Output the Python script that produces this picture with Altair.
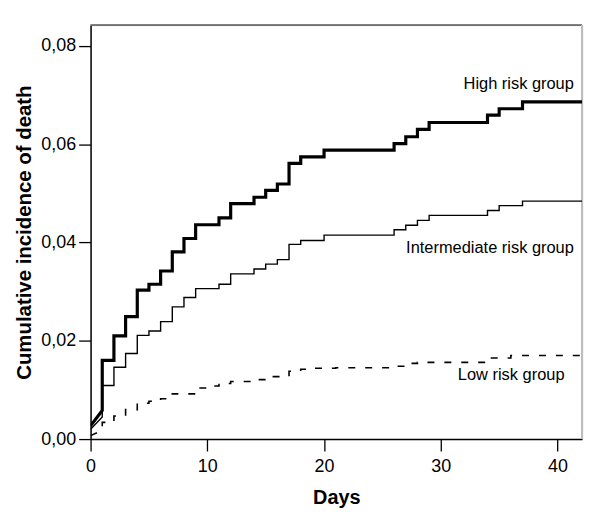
import altair as alt
import pandas as pd

# ---- data ----
groups = ["High risk group", "Intermediate risk group", "Low risk group"]

# value at day 0 and value just before the day-1 jump (initial sloped segment)
high_start = [0.0027, 0.0058]
high_days = [1, 2, 3, 4, 5, 6, 7, 8, 9, 11, 12, 14, 15, 16, 17, 18, 20, 26, 27, 28, 29, 34, 35, 37]
high_vals = [0.0160, 0.0210, 0.0249, 0.0303, 0.0315, 0.0342, 0.0381, 0.0408, 0.0436, 0.0450,
             0.0479, 0.0492, 0.0506, 0.0519, 0.0561, 0.0574, 0.0588, 0.0601, 0.0615, 0.0630,
             0.0644, 0.0659, 0.0672, 0.0686]

inter_start = [0.0020, 0.0045]
inter_days = [1, 2, 3, 4, 5, 6, 7, 8, 9, 11, 12, 14, 15, 16, 17, 18, 20, 26, 27, 28, 29, 34, 35, 37]
inter_vals = [0.0109, 0.0146, 0.0174, 0.0211, 0.0220, 0.0239, 0.0269, 0.0288, 0.0306, 0.0315,
              0.0336, 0.0346, 0.0356, 0.0365, 0.0396, 0.0404, 0.0415, 0.0426, 0.0435, 0.0445,
              0.0455, 0.0465, 0.0475, 0.0484]

low_start = [0.0007, 0.0018]
low_days = [1, 2, 3, 4, 5, 6, 7, 9, 10, 11, 12, 14, 15, 17, 18, 19, 21, 26, 27, 28, 34, 36]
low_vals = [0.0034, 0.0047, 0.0060, 0.0073, 0.0077, 0.0082, 0.0092, 0.0104, 0.0108, 0.0113,
            0.0117, 0.0121, 0.0127, 0.0138, 0.0142, 0.0144, 0.0145, 0.0148, 0.0154, 0.0156,
            0.0165, 0.0170]

follow_up_end = 42.1

label_x = [41.4, 41.4, 40.6]
label_y = [0.0722, 0.0388, 0.0131]

x_ticks = [0, 10, 20, 30, 40]
y_ticks = [0.0, 0.02, 0.04, 0.06, 0.08]

# ---- build step paths ----
def step_rows(name, start, days, vals):
    pts = [(0.0, start[0]), (1.0, start[1])]
    prev = start[1]
    for d, v in zip(days, vals):
        if pts[-1] != (d, prev):
            pts.append((d, prev))
        pts.append((d, v))
        prev = v
    pts.append((follow_up_end, prev))
    return [{"group": name, "day": x, "inc": y, "order": i} for i, (x, y) in enumerate(pts)]

rows = (step_rows(groups[0], high_start, high_days, high_vals)
        + step_rows(groups[1], inter_start, inter_days, inter_vals)
        + step_rows(groups[2], low_start, low_days, low_vals))
df = pd.DataFrame(rows)
labels = pd.DataFrame({"group": groups, "x": label_x, "y": label_y})

W, H = 494, 416
FONT = "Liberation Sans"

xs = alt.Scale(domain=[0, follow_up_end], nice=False)
ys = alt.Scale(domain=[0, 0.0842], nice=False)

x_axis = alt.Axis(values=x_ticks, title="Days", grid=False, tickSize=12, labelPadding=7,
                  titlePadding=12, labelFontSize=18, titleFontSize=20, titleFontWeight="bold",
                  labelFlush=False,
                  domainColor="black", tickColor="black", domainWidth=1.5, tickWidth=1.3,
                  labelColor="black", titleColor="black", labelFont=FONT, titleFont=FONT)
y_axis = alt.Axis(values=y_ticks, title="Cumulative incidence of death", grid=False, tickSize=12,
                  labelPadding=3, titlePadding=6, labelFontSize=18, titleFontSize=20.5,
                  titleFontWeight="bold", labelFlush=False,
                  labelExpr="replace(format(datum.value, '.2f'), '.', ',')",
                  domainColor="black", tickColor="black", domainWidth=1.5, tickWidth=1.3,
                  labelColor="black", titleColor="black", labelFont=FONT, titleFont=FONT)

def line_layer(name, width, dash=None):
    kw = dict(color="black", strokeWidth=width, interpolate="linear", clip=True)
    if dash:
        kw["strokeDash"] = dash
    return alt.Chart(df).transform_filter(alt.datum.group == name).mark_line(**kw).encode(
        x=alt.X("day:Q", scale=xs, axis=x_axis),
        y=alt.Y("inc:Q", scale=ys, axis=y_axis),
        order="order:Q",
    )

high = line_layer(groups[0], 3.2)
inter = line_layer(groups[1], 1.4)
low = line_layer(groups[2], 1.6, [7, 10])

text = alt.Chart(labels).mark_text(align="right", baseline="middle", fontSize=16.5, font=FONT,
                                   color="black").encode(
    x=alt.X("x:Q", scale=xs), y=alt.Y("y:Q", scale=ys), text="group:N")

top_border = alt.Chart(labels).mark_rule(color="#707070", strokeWidth=1.3).encode(
    x=alt.value(0), x2=alt.value(W), y=alt.value(0))
right_border = alt.Chart(labels).mark_rule(color="#bdbdbd", strokeWidth=2).encode(
    x=alt.value(W), y=alt.value(0), y2=alt.value(H))

chart = alt.layer(top_border, right_border, low, inter, high, text).properties(
    width=W, height=H,
    autosize=alt.AutoSizeParams(type="none"),
    padding={"left": 83, "top": 16, "right": 10, "bottom": 70},
).configure_view(stroke=None).configure(background="white")

chart.save("out.html", embed_options={"renderer": "svg", "actions": False})
